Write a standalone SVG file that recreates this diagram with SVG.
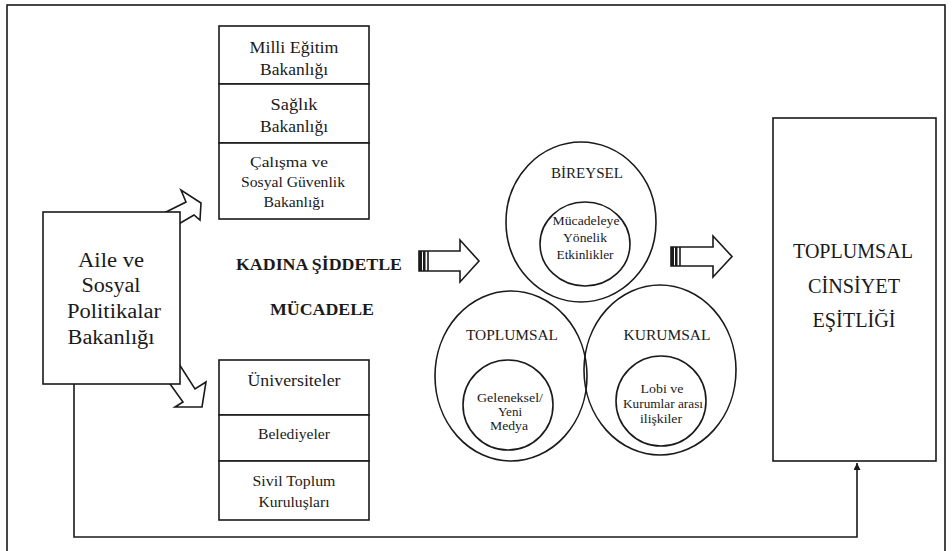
<svg xmlns="http://www.w3.org/2000/svg" width="952" height="551" viewBox="0 0 952 551">
<style>
  .ln { fill: none; stroke: #1a1a1a; stroke-width: 1.6; }
  .bx { fill: #ffffff; stroke: #1a1a1a; stroke-width: 1.6; }
  .t { font-family: "Liberation Serif", "Times New Roman", serif; fill: #1a1a1a; text-anchor: middle; }
  .b { font-weight: bold; }
</style>
<defs>
  <marker id="ah" viewBox="0 0 10 10" refX="10" refY="5" markerWidth="7" markerHeight="7" markerUnits="userSpaceOnUse" orient="auto">
    <path d="M0,0 L10,5 L0,10 z" fill="#1a1a1a"/>
  </marker>
</defs>
<rect width="952" height="551" fill="#ffffff"/>
<rect x="7" y="5" width="938" height="548" class="ln" stroke-width="1.2"/>

<g id="connectors">
  <polygon class="bx" points="150,220 186,202 181,190 201,203 200,220 194,215 165,232"/>
  <polygon class="bx" points="172,353 195,389 206,382 202,407 175,407 183,402 160,370"/>
  <polyline class="ln" points="74,384 74,537 857,537 857,463" marker-end="url(#ah)"/>
  <g id="arrow-left">
    <polygon class="bx" points="419,251 460,251 460,240 479,261 460,282 460,271 419,271"/>
    <rect x="419" y="251" width="3" height="20" fill="#1a1a1a"/>
    <rect x="423" y="251" width="2.5" height="20" fill="#1a1a1a"/>
    <line x1="428" y1="251" x2="428" y2="271" class="ln" stroke-width="1.2"/>
  </g>
  <g id="arrow-right">
    <polygon class="bx" points="671,247 713,247 713,236 732,256.5 713,277 713,266 671,266"/>
    <rect x="671" y="247" width="3" height="19" fill="#1a1a1a"/>
    <rect x="675" y="247" width="2.5" height="19" fill="#1a1a1a"/>
    <line x1="680" y1="247" x2="680" y2="266" class="ln" stroke-width="1.2"/>
  </g>
</g>

<g id="aile">
  <rect x="43" y="212" width="137" height="172" class="bx"/>
  <text class="t" font-size="20" x="111" y="267" textLength="66" lengthAdjust="spacingAndGlyphs">Aile ve</text>
  <text class="t" font-size="20" x="111" y="292" textLength="59" lengthAdjust="spacingAndGlyphs">Sosyal</text>
  <text class="t" font-size="20" x="114" y="318" textLength="94" lengthAdjust="spacingAndGlyphs">Politikalar</text>
  <text class="t" font-size="20" x="111" y="344" textLength="87" lengthAdjust="spacingAndGlyphs">Bakanlığı</text>
</g>

<g id="bakanliklar">
  <rect x="219" y="26" width="150" height="58" class="bx"/>
  <rect x="219" y="84" width="150" height="59" class="bx"/>
  <rect x="219" y="143" width="150" height="76" class="bx"/>
  <text class="t" font-size="16" x="294" y="53" textLength="89" lengthAdjust="spacingAndGlyphs">Milli Eğitim</text>
  <text class="t" font-size="16" x="294" y="75" textLength="68" lengthAdjust="spacingAndGlyphs">Bakanlığı</text>
  <text class="t" font-size="16" x="294" y="110" textLength="47" lengthAdjust="spacingAndGlyphs">Sağlık</text>
  <text class="t" font-size="16" x="294" y="132" textLength="68" lengthAdjust="spacingAndGlyphs">Bakanlığı</text>
  <text class="t" font-size="14" x="289" y="167" textLength="78" lengthAdjust="spacingAndGlyphs">Çalışma ve</text>
  <text class="t" font-size="14" x="293" y="187" textLength="104" lengthAdjust="spacingAndGlyphs">Sosyal Güvenlik</text>
  <text class="t" font-size="14" x="294" y="207" textLength="61" lengthAdjust="spacingAndGlyphs">Bakanlığı</text>
</g>

<g id="kurumlar">
  <rect x="219" y="360" width="150" height="55" class="bx"/>
  <rect x="219" y="415" width="150" height="46" class="bx"/>
  <rect x="219" y="461" width="150" height="59" class="bx"/>
  <text class="t" font-size="16" x="294" y="386" textLength="93" lengthAdjust="spacingAndGlyphs">Üniversiteler</text>
  <text class="t" font-size="14" x="294" y="439" textLength="72" lengthAdjust="spacingAndGlyphs">Belediyeler</text>
  <text class="t" font-size="14" x="294" y="486" textLength="83" lengthAdjust="spacingAndGlyphs">Sivil Toplum</text>
  <text class="t" font-size="14" x="294" y="507" textLength="71" lengthAdjust="spacingAndGlyphs">Kuruluşları</text>
</g>

<g id="baslik">
  <text class="t b" font-size="16.5" x="319" y="270" textLength="166" lengthAdjust="spacingAndGlyphs">KADINA ŞİDDETLE</text>
  <text class="t b" font-size="16.5" x="322" y="315" textLength="104" lengthAdjust="spacingAndGlyphs">MÜCADELE</text>
</g>

<g id="bireysel">
  <ellipse cx="581" cy="222" rx="75" ry="80" class="bx"/>
  <ellipse cx="585" cy="244" rx="45" ry="42" class="ln"/>
  <text class="t" font-size="15" x="587" y="178" textLength="72" lengthAdjust="spacingAndGlyphs">BİREYSEL</text>
  <text class="t" font-size="12" x="586" y="225" textLength="67" lengthAdjust="spacingAndGlyphs">Mücadeleye</text>
  <text class="t" font-size="12" x="585" y="242" textLength="44" lengthAdjust="spacingAndGlyphs">Yönelik</text>
  <text class="t" font-size="12" x="585" y="259" textLength="57" lengthAdjust="spacingAndGlyphs">Etkinlikler</text>
</g>

<g id="toplumsal">
  <ellipse cx="511" cy="376" rx="76" ry="85" class="ln"/>
  <ellipse cx="508" cy="405" rx="45" ry="45" class="ln"/>
  <text class="t" font-size="15" x="512" y="340" textLength="92" lengthAdjust="spacingAndGlyphs">TOPLUMSAL</text>
  <text class="t" font-size="12" x="510" y="402" textLength="66" lengthAdjust="spacingAndGlyphs">Geleneksel/</text>
  <text class="t" font-size="12" x="510" y="416" textLength="24" lengthAdjust="spacingAndGlyphs">Yeni</text>
  <text class="t" font-size="12" x="509" y="430" textLength="38" lengthAdjust="spacingAndGlyphs">Medya</text>
</g>

<g id="kurumsal">
  <ellipse cx="660" cy="370" rx="76" ry="85" class="ln"/>
  <ellipse cx="661" cy="401" rx="45" ry="45" class="ln"/>
  <text class="t" font-size="15" x="667" y="340" textLength="87" lengthAdjust="spacingAndGlyphs">KURUMSAL</text>
  <text class="t" font-size="12" x="662" y="393" textLength="43" lengthAdjust="spacingAndGlyphs">Lobi ve</text>
  <text class="t" font-size="12" x="663" y="408" textLength="80" lengthAdjust="spacingAndGlyphs">Kurumlar arası</text>
  <text class="t" font-size="12" x="661" y="423" textLength="42" lengthAdjust="spacingAndGlyphs">ilişkiler</text>
</g>

<g id="esitlik">
  <rect x="773" y="118" width="163" height="343" class="bx"/>
  <text class="t" font-size="20" x="853" y="258" textLength="120" lengthAdjust="spacingAndGlyphs">TOPLUMSAL</text>
  <text class="t" font-size="20" x="854" y="293" textLength="92" lengthAdjust="spacingAndGlyphs">CİNSİYET</text>
  <text class="t" font-size="20" x="854" y="327" textLength="83" lengthAdjust="spacingAndGlyphs">EŞİTLİĞİ</text>
</g>
</svg>
